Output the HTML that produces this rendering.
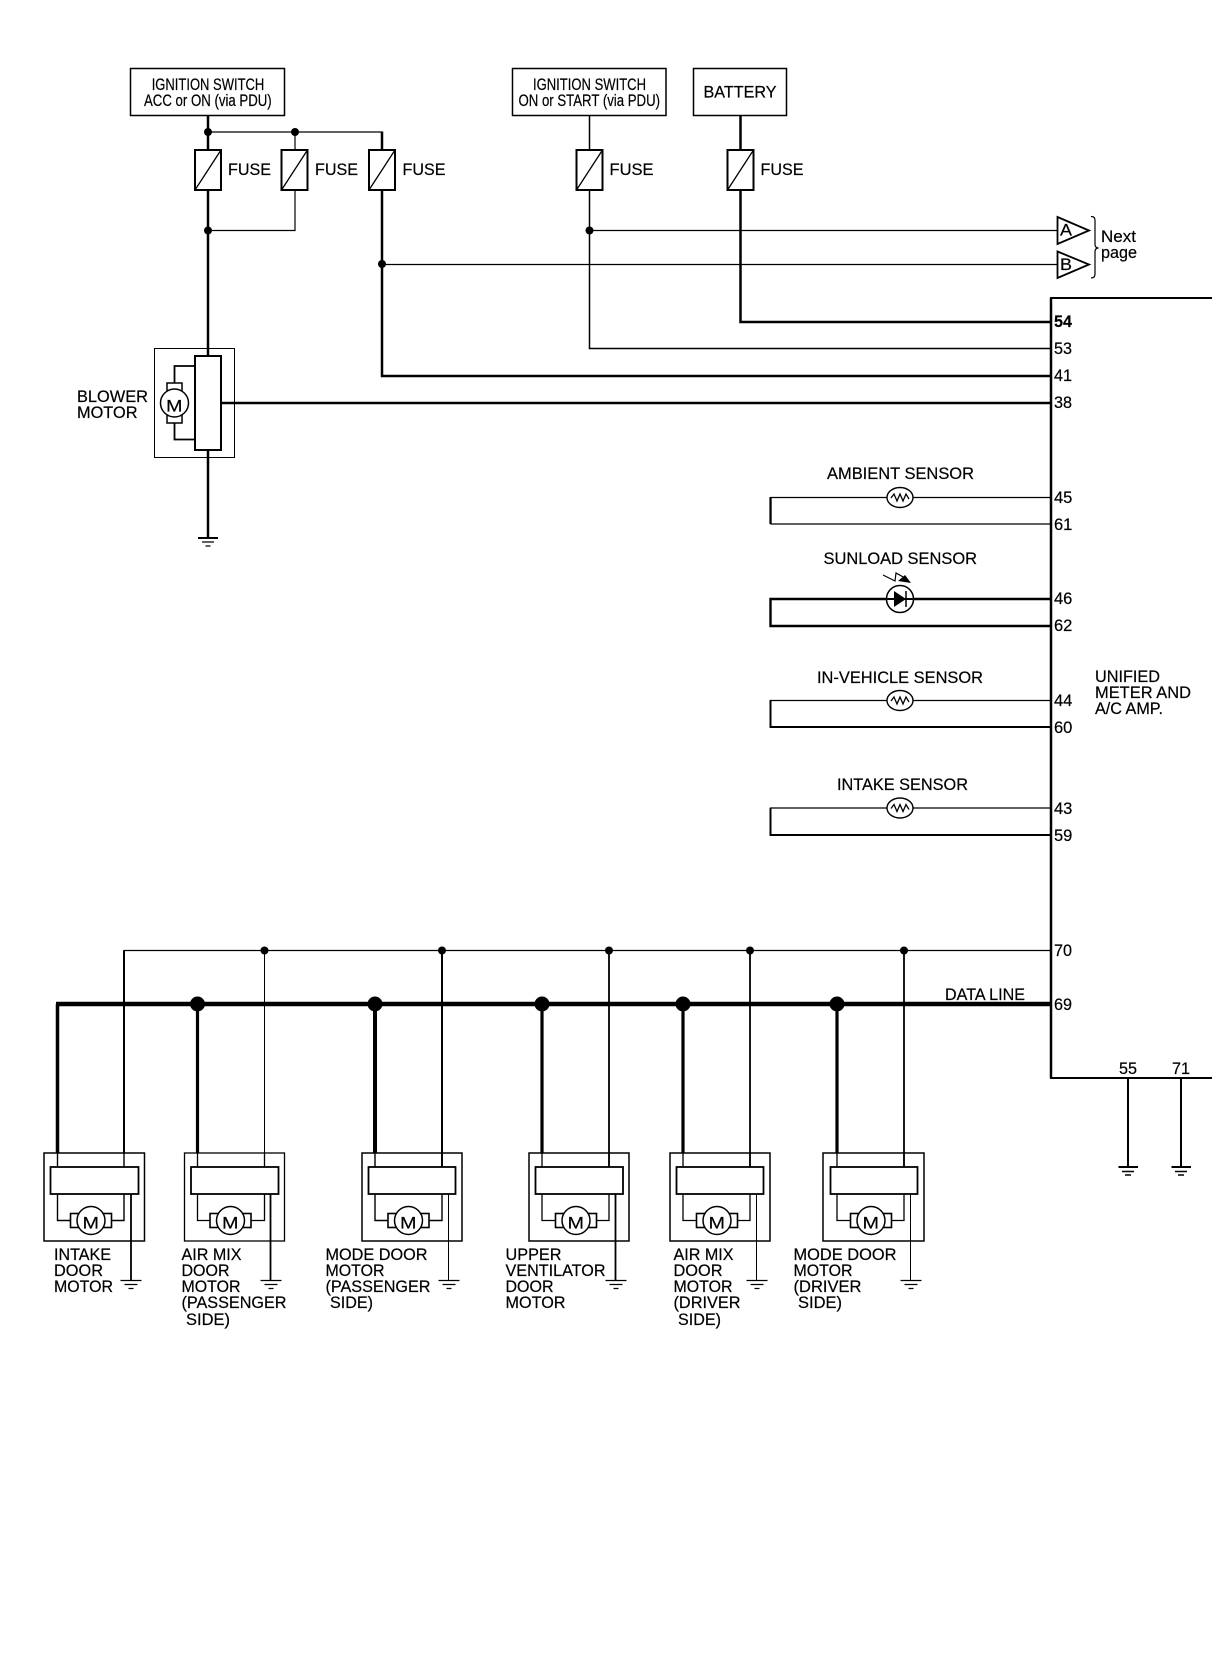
<!DOCTYPE html>
<html><head><meta charset="utf-8"><title>Wiring diagram</title>
<style>html,body{margin:0;padding:0;background:#fff}svg{display:block}
text{font-family:"Liberation Sans",sans-serif;fill:#000;font-size:16.5px;stroke:#000;stroke-width:.2px}</style></head><body>
<svg xmlns="http://www.w3.org/2000/svg" width="1216" height="1660" viewBox="0 0 1216 1660">
<defs>
<g id="fuse"><rect x="-13" y="0" width="26" height="40" fill="#fff" stroke="#000" stroke-width="2"/><path d="M-13 40L13 0" stroke="#000" stroke-width="1.3"/></g>
<g id="gnd" stroke="#000" stroke-width="1.3"><path d="M-10.500 0H10.500M-6.500 4H6.500M-2.500 8H2.500"/></g>
<g id="dm" fill="none" stroke="#000">
<rect x="-20.500" y="-7" width="41" height="14" fill="#fff" stroke-width="1.600"/>
<circle r="14" fill="#fff" stroke-width="1.500"/>
</g>
<path id="zig" d="M-9 0L-6 -4L-3 3L0 -4L3 3L6 -4L9 1" fill="none" stroke="#000" stroke-width="1.300"/>
</defs>
<g fill="none" stroke="#000">
<!-- top boxes -->
<rect x="130.500" y="68.500" width="154" height="47" stroke-width="1.500"/>
<rect x="512.500" y="68.500" width="153.500" height="47" stroke-width="1.500"/>
<rect x="693.500" y="68.500" width="93" height="47" stroke-width="1.500"/>
<!-- wires top -->
<path d="M208 116V538" stroke-width="2.500"/>
<path d="M208 132H382" stroke-width="1.300"/>
<path d="M382 131.500V376H1051" stroke-width="2.500"/>
<path d="M295 132V150M295 190V230.500H208" stroke-width="1.200"/>
<path d="M382 264.500H1058" stroke-width="1.200"/>
<path d="M589.500 116V348.500H1051" stroke-width="1.500"/>
<path d="M589.500 230.500H1058" stroke-width="1.200"/>
<path d="M740.500 116V322H1051" stroke-width="2.500"/>
<path d="M221 403H1051" stroke-width="2.500"/>
<!-- amp -->
<path d="M1212 298H1051V1078H1212" stroke-width="2"/>
<path d="M1051 298V1078" stroke-width="2.500"/>
<!-- blower -->
<rect x="154.500" y="348.500" width="80" height="109" stroke-width="1"/>
<rect x="195" y="356" width="26" height="94" fill="#fff" stroke-width="2"/>
<path d="M195 366H174.500V383M174.500 423V439.500H195" stroke-width="1.800"/>
<rect x="167" y="383" width="15" height="40" fill="#fff" stroke-width="1.500"/>
<circle cx="174.500" cy="403" r="14" fill="#fff" stroke-width="1.500"/>
<path d="M198 538H218" stroke-width="2"/><path d="M202 542H214M205.500 546H210.500" stroke-width="1.300"/>
<!-- triangles -->
<path d="M1057.500 217L1089 230.500L1057.500 244Z" fill="#fff" stroke-width="1.800"/>
<path d="M1057.500 251.500L1089 264.500L1057.500 278Z" fill="#fff" stroke-width="1.800"/>
<path d="M1091 216.500Q1095 216.500 1095 220V244Q1095 248 1098.500 248Q1095 248 1095 252V274Q1095 278 1091 278" stroke-width="1.200"/>
<!-- sensors -->
<path d="M1051 497.500H771V524H1051" stroke-width="1.200"/><path d="M770.500 497V524" stroke-width="2.200"/>
<path d="M1051 599H770.500V626H1051" stroke-width="2.400"/>
<path d="M1051 700.500H770.500V727H1051" stroke-width="1.300"/><path d="M770 727H1051M770.500 700V728" stroke-width="2"/>
<path d="M1051 808H770.500V835H1051" stroke-width="1.300"/><path d="M770 835H1051M770.500 808V836" stroke-width="2"/>
<ellipse cx="900" cy="497.500" rx="13" ry="10" fill="#fff" stroke-width="1.400"/>
<ellipse cx="900" cy="700.500" rx="13" ry="10" fill="#fff" stroke-width="1.400"/>
<ellipse cx="900" cy="808" rx="13" ry="10" fill="#fff" stroke-width="1.400"/>
<circle cx="900" cy="599" r="13.500" fill="#fff" stroke-width="1.500"/>
<path d="M886.500 599H913.500" stroke-width="2"/>
<path d="M883 575L895 581L896 573L905 578" stroke-width="1.200"/>
<!-- control line and data line -->
<path d="M1051 950.500H124V1153" stroke-width="1.200"/>
<path d="M124 950.500V1153" stroke-width="2"/>
<path d="M56 1004H1051" stroke-width="4.500"/>
<path d="M57.500 1153V1004" stroke-width="3.500"/>
<path d="M197.500 1004V1153M542 1004V1153M683 1004V1153M837 1004V1153" stroke-width="3.200"/>
<path d="M375 1004V1153" stroke-width="4"/>
<path d="M264.500 950V1167" stroke-width="1"/>
<path d="M442 950V1167" stroke-width="2"/>
<path d="M609 950V1167M750 950V1167M904 950V1167" stroke-width="1.800"/>
<!-- pins 55 71 -->
<path d="M1128 1078V1167M1181 1078V1167" stroke-width="2"/>
<path d="M1118.500 1167H1138M1171.500 1167H1191" stroke-width="2"/>
<path d="M1122 1171.500H1134M1175 1171.500H1187M1125 1175H1131M1178 1175H1184" stroke-width="1.500"/>
<!-- door motor boxes -->
<rect x="44" y="1153" width="100.500" height="88" stroke-width="1.500"/>
<rect x="184.500" y="1153" width="100" height="88" stroke-width="1.300"/>
<rect x="362" y="1153" width="100" height="88" stroke-width="1.500"/>
<rect x="529" y="1153" width="100" height="88" stroke-width="1.500"/>
<rect x="670" y="1153" width="100" height="88" stroke-width="1.500"/>
<rect x="823" y="1153" width="101" height="88" stroke-width="1.500"/>
<!-- inside wires -->
<path d="M57.500 1153V1220.500H71M124 1153V1220.500H111" stroke-width="1.400"/>
<path d="M197.500 1153V1220.500H210M264.500 1153V1220.500H251" stroke-width="1.300"/>
<path d="M375 1153V1220.500H388M442 1153V1220.500H429" stroke-width="1.400"/>
<path d="M542 1153V1220.500H556M609 1153V1220.500H596" stroke-width="1.300"/>
<path d="M683 1153V1220.500H697M750 1153V1220.500H737" stroke-width="1.300"/>
<path d="M837 1153V1220.500H851M904 1153V1220.500H891" stroke-width="1.300"/>
<!-- inner rects -->
<rect x="50.500" y="1167" width="88" height="27" fill="#fff" stroke-width="1.800"/>
<rect x="191" y="1167" width="87.500" height="27" fill="#fff" stroke-width="1.800"/>
<rect x="368.500" y="1167" width="87" height="27" fill="#fff" stroke-width="1.800"/>
<rect x="535.500" y="1167" width="87.500" height="27" fill="#fff" stroke-width="1.800"/>
<rect x="676.500" y="1167" width="87" height="27" fill="#fff" stroke-width="1.800"/>
<rect x="830.500" y="1167" width="87" height="27" fill="#fff" stroke-width="1.800"/>
<!-- ground lines -->
<path d="M131 1194V1280M270.500 1194V1280M615.500 1194V1280" stroke-width="1.800"/>
<path d="M448.500 1194V1280M756.500 1194V1280M910.500 1194V1280" stroke-width="1"/>
</g>
<use href="#fuse" x="208" y="150"/><use href="#fuse" x="294.500" y="150"/><use href="#fuse" x="382" y="150"/>
<use href="#fuse" x="589.500" y="150"/><use href="#fuse" x="740.500" y="150"/>
<use href="#dm" x="91" y="1220.500"/><use href="#dm" x="230.500" y="1220.500"/><use href="#dm" x="408.500" y="1220.500"/>
<use href="#dm" x="576" y="1220.500"/><use href="#dm" x="717" y="1220.500"/><use href="#dm" x="871" y="1220.500"/>
<use href="#gnd" x="131" y="1280.500"/><use href="#gnd" x="271" y="1280.500"/><use href="#gnd" x="449" y="1280.500"/>
<use href="#gnd" x="616" y="1280.500"/><use href="#gnd" x="757" y="1280.500"/><use href="#gnd" x="911" y="1280.500"/>
<use href="#zig" x="900" y="498"/><use href="#zig" x="900" y="701"/><use href="#zig" x="900" y="808.500"/>
<g fill="#000">
<circle cx="208" cy="132" r="4"/><circle cx="295" cy="132" r="4"/><circle cx="208" cy="230.500" r="4"/>
<circle cx="382" cy="264" r="4"/><circle cx="589.500" cy="230.500" r="4"/>
<circle cx="264.500" cy="950.500" r="4"/><circle cx="442" cy="950.500" r="4"/><circle cx="609" cy="950.500" r="4"/><circle cx="750" cy="950.500" r="4"/><circle cx="904" cy="950.500" r="4"/>
<circle cx="197.500" cy="1004" r="7.500"/><circle cx="375" cy="1004" r="7.500"/><circle cx="542" cy="1004" r="7.500"/><circle cx="683" cy="1004" r="7.500"/><circle cx="837" cy="1004" r="7.500"/>
<path d="M894 591L906 599L894 607Z"/><path d="M906 591V607" stroke="#000" stroke-width="1.500"/>
<path d="M905 575L911 583L898 581Z"/>
</g>
<text x="151.700" y="90" font-size="15" textLength="112.600" lengthAdjust="spacingAndGlyphs">IGNITION SWITCH</text>
<text x="144" y="106" font-size="15" textLength="127.700" lengthAdjust="spacingAndGlyphs">ACC or ON (via PDU)</text>
<text x="533" y="90" font-size="15" textLength="113" lengthAdjust="spacingAndGlyphs">IGNITION SWITCH</text>
<text x="518.500" y="106" font-size="15" textLength="141.500" lengthAdjust="spacingAndGlyphs">ON or START (via PDU)</text>
<text x="703.500" y="97.500" textLength="73" lengthAdjust="spacingAndGlyphs">BATTERY</text>
<text x="228" y="175" textLength="43" lengthAdjust="spacingAndGlyphs">FUSE</text>
<text x="315" y="175" textLength="43" lengthAdjust="spacingAndGlyphs">FUSE</text>
<text x="402.500" y="175" textLength="43" lengthAdjust="spacingAndGlyphs">FUSE</text>
<text x="609.500" y="175" textLength="44" lengthAdjust="spacingAndGlyphs">FUSE</text>
<text x="760.500" y="175" textLength="43" lengthAdjust="spacingAndGlyphs">FUSE</text>
<text x="77" y="402" textLength="71" lengthAdjust="spacingAndGlyphs">BLOWER</text>
<text x="77" y="418" textLength="60.500" lengthAdjust="spacingAndGlyphs">MOTOR</text>
<text x="1060" y="235.500" font-size="17" textLength="12" lengthAdjust="spacingAndGlyphs">A</text>
<text x="1060" y="270" font-size="17" textLength="12" lengthAdjust="spacingAndGlyphs">B</text>
<text x="1101" y="242" textLength="35" lengthAdjust="spacingAndGlyphs">Next</text>
<text x="1101" y="258" textLength="36" lengthAdjust="spacingAndGlyphs">page</text>
<text x="1054" y="327" font-size="16" font-weight="bold" textLength="18" lengthAdjust="spacingAndGlyphs">54</text>
<text x="1054" y="354" font-size="16" textLength="18" lengthAdjust="spacingAndGlyphs">53</text>
<text x="1054" y="381" font-size="16" textLength="18" lengthAdjust="spacingAndGlyphs">41</text>
<text x="1054" y="408" font-size="16" textLength="18" lengthAdjust="spacingAndGlyphs">38</text>
<text x="1054" y="503" font-size="16">45</text><text x="1054" y="530" font-size="16">61</text>
<text x="1054" y="604" font-size="16">46</text><text x="1054" y="631" font-size="16">62</text>
<text x="1054" y="706" font-size="16">44</text><text x="1054" y="733" font-size="16">60</text>
<text x="1054" y="814" font-size="16">43</text><text x="1054" y="841" font-size="16">59</text>
<text x="1054" y="956" font-size="16" textLength="18" lengthAdjust="spacingAndGlyphs">70</text>
<text x="1054" y="1010" font-size="16" textLength="18" lengthAdjust="spacingAndGlyphs">69</text>
<text x="1119" y="1074" font-size="16" textLength="18" lengthAdjust="spacingAndGlyphs">55</text>
<text x="1172" y="1074" font-size="16" textLength="18" lengthAdjust="spacingAndGlyphs">71</text>
<text x="827" y="479" textLength="147" lengthAdjust="spacingAndGlyphs">AMBIENT SENSOR</text>
<text x="823.500" y="564" textLength="153.500" lengthAdjust="spacingAndGlyphs">SUNLOAD SENSOR</text>
<text x="817" y="683" textLength="166" lengthAdjust="spacingAndGlyphs">IN-VEHICLE SENSOR</text>
<text x="837" y="790" textLength="131" lengthAdjust="spacingAndGlyphs">INTAKE SENSOR</text>
<text x="1095" y="682" textLength="65" lengthAdjust="spacingAndGlyphs">UNIFIED</text>
<text x="1095" y="698" textLength="96" lengthAdjust="spacingAndGlyphs">METER AND</text>
<text x="1095" y="714" textLength="68" lengthAdjust="spacingAndGlyphs">A/C AMP.</text>
<text x="945" y="1000" font-size="15.500" textLength="80" lengthAdjust="spacingAndGlyphs">DATA LINE</text>
<text x="54" y="1260" textLength="57" lengthAdjust="spacingAndGlyphs">INTAKE</text>
<text x="54" y="1276" textLength="49" lengthAdjust="spacingAndGlyphs">DOOR</text>
<text x="54" y="1292" textLength="59" lengthAdjust="spacingAndGlyphs">MOTOR</text>
<text x="181.500" y="1260" textLength="60" lengthAdjust="spacingAndGlyphs">AIR MIX</text>
<text x="181.500" y="1276" textLength="48" lengthAdjust="spacingAndGlyphs">DOOR</text>
<text x="181.500" y="1292" textLength="59" lengthAdjust="spacingAndGlyphs">MOTOR</text>
<text x="181.500" y="1308" textLength="105" lengthAdjust="spacingAndGlyphs">(PASSENGER</text>
<text x="186" y="1325" textLength="44" lengthAdjust="spacingAndGlyphs">SIDE)</text>
<text x="325.500" y="1260" textLength="102" lengthAdjust="spacingAndGlyphs">MODE DOOR</text>
<text x="325.500" y="1276" textLength="59" lengthAdjust="spacingAndGlyphs">MOTOR</text>
<text x="325.500" y="1292" textLength="105" lengthAdjust="spacingAndGlyphs">(PASSENGER</text>
<text x="330" y="1308" textLength="43" lengthAdjust="spacingAndGlyphs">SIDE)</text>
<text x="505.500" y="1260" textLength="56" lengthAdjust="spacingAndGlyphs">UPPER</text>
<text x="505.500" y="1276" textLength="100" lengthAdjust="spacingAndGlyphs">VENTILATOR</text>
<text x="505.500" y="1292" textLength="48" lengthAdjust="spacingAndGlyphs">DOOR</text>
<text x="505.500" y="1308" textLength="60" lengthAdjust="spacingAndGlyphs">MOTOR</text>
<text x="673.500" y="1260" textLength="60" lengthAdjust="spacingAndGlyphs">AIR MIX</text>
<text x="673.500" y="1276" textLength="49" lengthAdjust="spacingAndGlyphs">DOOR</text>
<text x="673.500" y="1292" textLength="59" lengthAdjust="spacingAndGlyphs">MOTOR</text>
<text x="673.500" y="1308" textLength="67" lengthAdjust="spacingAndGlyphs">(DRIVER</text>
<text x="678" y="1325" textLength="43" lengthAdjust="spacingAndGlyphs">SIDE)</text>
<text x="793.500" y="1260" textLength="103" lengthAdjust="spacingAndGlyphs">MODE DOOR</text>
<text x="793.500" y="1276" textLength="59" lengthAdjust="spacingAndGlyphs">MOTOR</text>
<text x="793.500" y="1292" textLength="68" lengthAdjust="spacingAndGlyphs">(DRIVER</text>
<text x="798" y="1308" textLength="44" lengthAdjust="spacingAndGlyphs">SIDE)</text>
<g font-size="24">
<text x="166" y="411.500" font-size="24" textLength="16.500" lengthAdjust="spacingAndGlyphs">M</text>
<text x="82.500" y="1228.500" font-size="24" textLength="16.500" lengthAdjust="spacingAndGlyphs">M</text>
<text x="222" y="1228.500" font-size="24" textLength="16.500" lengthAdjust="spacingAndGlyphs">M</text>
<text x="400" y="1228.500" font-size="24" textLength="16.500" lengthAdjust="spacingAndGlyphs">M</text>
<text x="567.500" y="1228.500" font-size="24" textLength="16.500" lengthAdjust="spacingAndGlyphs">M</text>
<text x="708.500" y="1228.500" font-size="24" textLength="16.500" lengthAdjust="spacingAndGlyphs">M</text>
<text x="862.500" y="1228.500" font-size="24" textLength="16.500" lengthAdjust="spacingAndGlyphs">M</text>
</g>
</svg>
</body></html>
